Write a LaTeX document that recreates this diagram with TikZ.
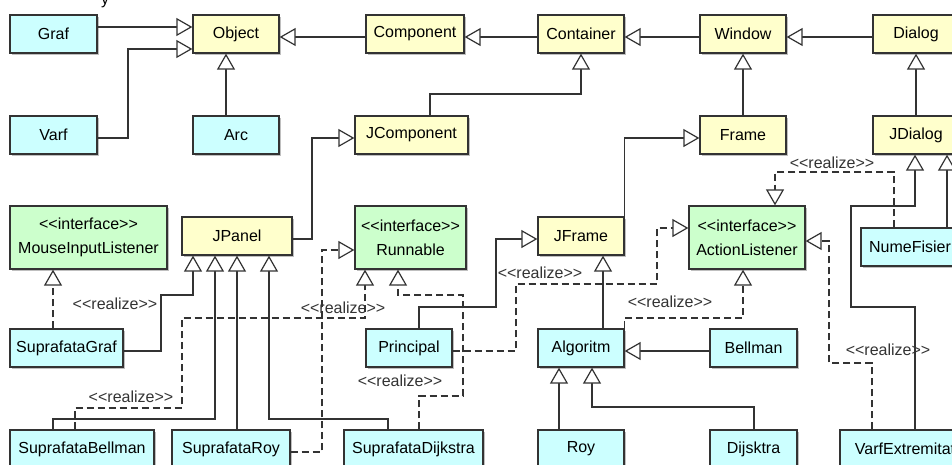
\documentclass[tikz,border=0pt]{standalone}
\usepackage{fontspec}
\setmainfont{Liberation Sans}
\usetikzlibrary{arrows.meta,shadows}

\definecolor{clsCyan}{HTML}{CCFFFF}
\definecolor{clsYellow}{HTML}{FFFFCC}
\definecolor{clsGreen}{HTML}{CCFFCC}
\definecolor{ink}{HTML}{333333}

% guillemet-like stereotype brackets, kept as two separate glyphs
\newcommand\ltlt{<\kern0pt<}
\newcommand\gtgt{>\kern0pt>}

\tikzset{
  box/.style={draw=ink, line width=1.3pt, minimum height=38pt, inner sep=0pt,
    text=black, font=\fontsize{16}{24}\selectfont,
    drop shadow={shadow xshift=1.5pt, shadow yshift=-1.5pt, opacity=0.25, fill=black}},
  userclass/.style={box, fill=clsCyan},
  libclass/.style={box, fill=clsYellow},
  iface/.style={box, fill=clsGreen, minimum height=63pt, align=center},
  gen/.style={draw=ink, line width=1.2pt,
    -{Triangle[length=16pt,width=18pt,fill=white]}},
  real/.style={gen, dash pattern=on 7pt off 4pt},
  lbl/.style={font=\fontsize{16}{19}\selectfont, inner sep=0pt, text=ink},
}

\begin{document}
\begin{tikzpicture}[x=1pt,y=-1pt]
\useasboundingbox (0,0) rectangle (952,464);
\clip (0,0) rectangle (952,464);
\fill[white] (0,0) rectangle (952,464);

\node[lbl, anchor=base, text=black] (ttl) at (105,4) {y};

% ---- classes ----
\node[userclass, minimum width=87pt] (graf) at (53.5,34) {Graf};
\node[libclass, minimum width=86pt] (obj) at (236,34) {Object};
\node[libclass, minimum width=98pt] (comp) at (415,34) {Component};
\node[libclass, minimum width=86pt] (cont) at (581,34) {Container};
\node[libclass, minimum width=86pt] (win) at (743,34) {Window};
\node[libclass, minimum width=86pt] (dialog) at (916,34) {Dialog};

\node[userclass, minimum width=87pt] (varf) at (53.5,135) {Varf};
\node[userclass, minimum width=86pt] (arc) at (236,135) {Arc};
\node[libclass, minimum width=113pt] (jcomp) at (411.5,135) {JComponent};
\node[libclass, minimum width=86pt] (frame) at (743,135) {Frame};
\node[libclass, minimum width=86pt] (jdialog) at (916,135) {JDialog};

\node[iface, minimum width=157pt] (mil) at (88.5,237.5) {\ltlt interface\gtgt\\MouseInputListener};
\node[libclass, minimum width=110pt] (jpanel) at (237,236) {JPanel};
\node[iface, minimum width=111pt] (runn) at (410.5,237.5) {\ltlt interface\gtgt\\Runnable};
\node[libclass, minimum width=86pt] (jframe) at (581,236) {JFrame};
\node[iface, minimum width=116pt] (actl) at (747,237.5) {\ltlt interface\gtgt\\ActionListener};
\node[userclass, minimum width=98pt] (nume) at (910,247) {NumeFisier};

\node[userclass, minimum width=113pt] (sgraf) at (66.5,348) {SuprafataGraf};
\node[userclass, minimum width=86pt] (princ) at (409,348) {Principal};
\node[userclass, minimum width=86pt] (algo) at (581,348) {Algoritm};
\node[userclass, minimum width=87pt] (bellman) at (753.5,348) {Bellman};

\node[userclass, minimum width=144pt] (sbell) at (82,449) {SuprafataBellman};
\node[userclass, minimum width=118pt] (sroy) at (231,449) {SuprafataRoy};
\node[userclass, minimum width=139pt] (sdij) at (413.5,449) {SuprafataDijkstra};
\node[userclass, minimum width=86pt] (roy) at (581,449) {Roy};
\node[userclass, minimum width=87pt] (dijsktra) at (753.5,449) {Dijsktra};
\node[userclass, minimum width=139pt] (varfx) at (909.5,449) {VarfExtremitate};

% ---- generalizations ----
\draw[gen] (graf.east |- 0,27) -- (obj.west |- 0,27);
\draw[gen] (varf.east |- 0,138) -| (128,49) -- (obj.west |- 0,49);
\draw[gen] (arc.north -| 226,0) -- (obj.south -| 226,0);
\draw[gen] (comp.west |- 0,37) -- (obj.east |- 0,37);
\draw[gen] (cont.west |- 0,37) -- (comp.east |- 0,37);
\draw[gen] (win.west |- 0,37) -- (cont.east |- 0,37);
\draw[gen] (dialog.west |- 0,37) -- (win.east |- 0,37);
\draw[gen] (frame.north) -- (win.south);
\draw[gen] (jdialog.north) -- (dialog.south);
\draw[gen] (jcomp.north -| 430,0) |- (581,94) -- (cont.south);
\draw[gen] (jpanel.east |- 0,239) -| (312,138) -- (jcomp.west |- 0,138);
\draw[gen] (jframe.north east) |- (frame.west |- 0,138);
\draw[gen] (sgraf.east |- 0,351) -| (161,295) -| (jpanel.south -| 193,0);
\draw[gen] (sbell.north -| 53,0) |- (215,419) -- (jpanel.south -| 215,0);
\draw[gen] (sroy.north -| 237,0) -- (jpanel.south -| 237,0);
\draw[gen] (sdij.north -| 388,0) |- (269,419) -- (jpanel.south -| 269,0);
\draw[gen] (princ.north -| 419,0) |- (496,307) |- (jframe.west |- 0,239);
\draw[gen] (algo.north -| 603,0) -- (jframe.south -| 603,0);
\draw[gen] (bellman.west |- 0,351) -- (algo.east |- 0,351);
\draw[gen] (roy.north -| 559,0) -- (algo.south -| 559,0);
\draw[gen] (dijsktra.north -| 754,0) |- (592,407) -- (algo.south -| 592,0);
\draw[gen] (nume.north -| 947,0) -- (jdialog.south -| 947,0);
\draw[gen] (varfx.north -| 915,0) |- (851,307) |- (915,206) -- (jdialog.south -| 915,0);

% ---- realizations ----
\draw[real] (sgraf.north -| 53,0) -- (mil.south -| 53,0);
\draw[real] (sbell.north -| 75,0) |- (182,408) |- (365,318) -- (runn.south -| 365,0);
\draw[real] (sroy.east |- 0,452) -| (322,250) -- (runn.west |- 0,250);
\draw[real] (sdij.north -| 419,0) |- (463,396) |- (398,295) -- (runn.south -| 398,0);
\draw[real] (princ.east |- 0,351) -| (516,284) -| (657,228) -- (actl.west |- 0,228);
\draw[real] (algo.north east) |- (743,318) -- (actl.south -| 743,0);
\draw[real] (nume.north -| 894,0) |- (775,172) -- (actl.north -| 775,0);
\draw[real] (varfx.north -| 872,0) |- (829,363) |- (actl.east |- 0,241);

% ---- stereotype labels ----
\node[lbl] (r1) at (115,304) {\ltlt realize\gtgt};
\node[lbl] (r2) at (131,397) {\ltlt realize\gtgt};
\node[lbl] (r3) at (343,308) {\ltlt realize\gtgt};
\node[lbl] (r4) at (400,381) {\ltlt realize\gtgt};
\node[lbl] (r5) at (540,273) {\ltlt realize\gtgt};
\node[lbl] (r6) at (670,302) {\ltlt realize\gtgt};
\node[lbl] (r7) at (832,163) {\ltlt realize\gtgt};
\node[lbl] (r8) at (888,350) {\ltlt realize\gtgt};
\end{tikzpicture}
\end{document}
